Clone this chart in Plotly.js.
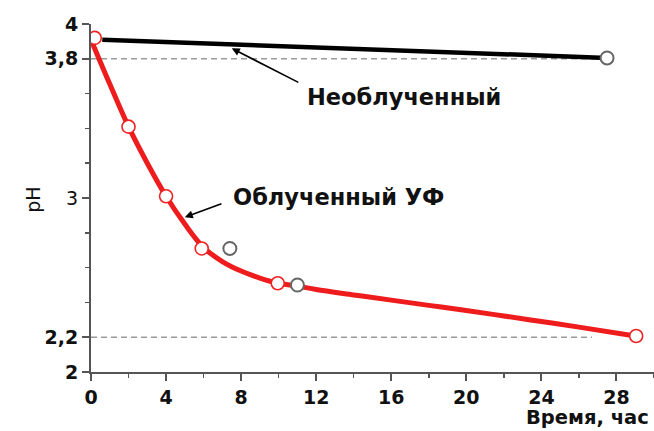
<!DOCTYPE html>
<html><head><meta charset="utf-8">
<script src="https://cdn.plot.ly/plotly-3.0.1.min.js"></script>
<style>body{margin:0;background:#fff}#c{width:654px;height:431px}</style>
</head><body><div id="c"></div>
<script>
// Irradiated (UV) sample: measured points
const uvX = [0.2, 2, 4, 5.9, 9.95, 29.05];
const uvY = [3.92, 3.41, 3.01, 2.71, 2.51, 2.207];
// grey reference points
const greyX = [7.4, 11.0];
const greyY = [2.71, 2.50];
// smooth fitted curve for irradiated sample
const fitX = [0, 1, 2, 3, 4, 5, 6, 7, 8, 9, 10, 11, 12, 14, 16, 18, 20, 22, 24, 26, 29];
const fitY = [3.91, 3.655, 3.41, 3.2, 3.01, 2.85, 2.715, 2.635, 2.58, 2.54, 2.51, 2.494, 2.474, 2.443, 2.413, 2.383, 2.353, 2.322, 2.29, 2.258, 2.207];
// non-irradiated sample
const nonX = [0.6, 27.5];
const nonY = [3.91, 3.805];
// dashed reference levels
const refLevels = [3.8, 2.2];
const refEnds = [27, 26.7];
// tick labels
const yTickVals = [2, 2.2, 3, 3.8, 4];
const yTickText = ['<b>2</b>', '<b>2,2</b>', '3', '<b>3,8</b>', '<b>4</b>'];
const xTickVals = [0, 4, 8, 12, 16, 20, 24, 28];
const xTickText = ['0', '4', '8', '12', '16', '20', '24', '28'];
const labelNon = 'Необлученный';
const labelUV = 'Облученный УФ';
const xTitle = 'Время, час';
const yTitle = 'pH';

const F = 'DejaVu Sans, Arial, sans-serif';
const traces = [];
refLevels.forEach((lv, i) => traces.push({
  x: [0, refEnds[i]], y: [lv, lv], mode: 'lines', hoverinfo: 'skip',
  line: {color: '#9a9a9a', width: 1.5, dash: '6px,4px'}
}));
traces.push({x: nonX, y: nonY, mode: 'lines', line: {color: '#000', width: 4.5}});
traces.push({x: [nonX[1]], y: [nonY[1]], mode: 'markers',
  marker: {symbol: 'circle', size: 13, color: '#fff', line: {color: '#666', width: 2}}});
traces.push({x: fitX, y: fitY, mode: 'lines', line: {color: '#ee1c1c', width: 5, shape: 'spline', smoothing: 1}});
traces.push({x: uvX, y: uvY, mode: 'markers',
  marker: {symbol: 'circle', size: 13, color: '#fff', line: {color: '#ee2222', width: 1.6}}});
traces.push({x: greyX, y: greyY, mode: 'markers',
  marker: {symbol: 'circle', size: 13, color: '#fff', line: {color: '#666', width: 2}}});

const layout = {
  width: 654, height: 431,
  margin: {l: 91, r: 0, t: 24, b: 59},
  paper_bgcolor: '#fff', plot_bgcolor: '#fff',
  showlegend: false,
  font: {family: F, color: '#111'},
  xaxis: {
    range: [0, 30], showgrid: false, zeroline: false,
    showline: true, linecolor: '#555', linewidth: 2,
    ticks: 'outside', ticklen: 7, tickwidth: 2, tickcolor: '#555',
    tickvals: xTickVals, ticktext: xTickText,
    tickfont: {family: F, size: 19, weight: 'bold', color: '#111'},
    minor: {dtick: 2, tick0: 0, ticks: 'outside', ticklen: 4, tickwidth: 1.5, tickcolor: '#555'}
  },
  yaxis: {
    range: [2, 4], showgrid: false, zeroline: false,
    showline: true, linecolor: '#555', linewidth: 2,
    ticks: 'outside', ticklen: 7, tickwidth: 1.5, tickcolor: '#555',
    tickvals: yTickVals, ticktext: yTickText,
    tickfont: {family: F, size: 19, color: '#111'},
    minor: {dtick: 0.2, tick0: 2, ticks: 'outside', ticklen: 4, tickwidth: 1.5, tickcolor: '#555'}
  },
  annotations: [
    {xref: 'x', yref: 'y', x: 7.5, y: 3.86, ax: 11.13, ay: 3.66, axref: 'x', ayref: 'y',
     text: '', showarrow: true, arrowhead: 2, arrowsize: 1, arrowwidth: 1.6, arrowcolor: '#000'},
    {xref: 'x', yref: 'y', x: 16.7, y: 3.58, text: '<b>' + labelNon + '</b>', showarrow: false,
     xanchor: 'center', yanchor: 'middle', font: {family: F, size: 22.5, color: '#111'}},
    {xref: 'x', yref: 'y', x: 5.0, y: 2.89, ax: 7.03, ay: 2.97, axref: 'x', ayref: 'y',
     text: '', showarrow: true, arrowhead: 2, arrowsize: 1, arrowwidth: 1.6, arrowcolor: '#000'},
    {xref: 'x', yref: 'y', x: 7.45, y: 3.007, text: '<b>' + labelUV + '</b>', showarrow: false,
     xanchor: 'left', yanchor: 'middle', font: {family: F, size: 22.5, color: '#111'}},
    {xref: 'paper', yref: 'paper', x: 0.994, y: -0.13, text: '<b>' + xTitle + '</b>', showarrow: false,
     xanchor: 'right', yanchor: 'middle', font: {family: F, size: 19.5, color: '#111'}},
    {xref: 'paper', yref: 'paper', x: -0.103, y: 0.495, text: yTitle, showarrow: false, textangle: -90,
     xanchor: 'center', yanchor: 'middle', font: {family: F, size: 19, color: '#111'}}
  ]
};
Plotly.newPlot('c', traces, layout, {staticPlot: true, displayModeBar: false});
</script>
</body></html>
